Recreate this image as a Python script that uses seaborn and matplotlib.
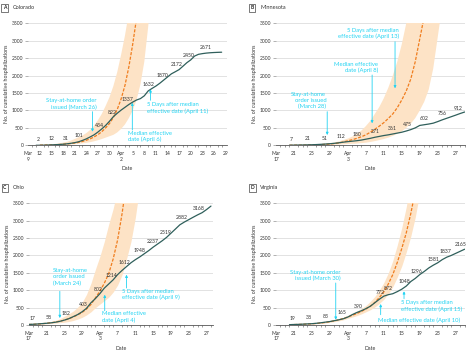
import numpy as np
import matplotlib
matplotlib.use("Agg")
import matplotlib.pyplot as plt
import seaborn as sns

# ---- Colorado (day 0 = Mar 9) ----
co_days = list(range(2, 51))
co_cum = [0, 2, 4, 7, 12, 17, 23, 31, 42, 57, 76, 101, 140, 185, 240, 300, 380, 470, 570, 690,
          822, 920, 1010, 1090, 1170, 1240, 1300, 1340, 1420, 1560, 1632, 1700, 1780, 1870, 1960,
          2050, 2110, 2172, 2270, 2370, 2450, 2560, 2610, 2630, 2645, 2655, 2662, 2667, 2671]
co_pdays = list(range(3, 33))
co_proj = [6, 8, 10, 13, 17, 22, 29, 38, 50, 65, 85, 110, 145, 185, 240, 305, 390, 500, 625, 800,
           1030, 1330, 1720, 2250, 2900, 3650, 4600, 5800, 7300, 9200]
co_lo = [0, 1, 2, 4, 6, 9, 13, 18, 25, 33, 43, 55, 70, 90, 115, 145, 180, 220, 260, 300,
         370, 470, 600, 780, 1000, 1300, 1750, 2400, 3400, 4600]
co_hi = [5, 10, 18, 28, 40, 55, 75, 100, 135, 180, 230, 280, 350, 440, 560, 720, 900, 1130, 1380, 1700,
         2100, 2600, 3150, 3800, 4600, 5500, 6600, 8000, 9500, 11000]
co_lab_days = [2.6, 5.9, 9.6, 13, 18.3, 21.6, 25.8, 31, 34.7, 38.4, 41.5, 46]
co_lab_vals = [2, 12, 31, 101, 434, 822, 1337, 1632, 1870, 2172, 2450, 2671]
co_ticklabels = ["Mar\n9", "12", "15", "18", "21", "24", "27", "30", "Apr\n2",
                 "5", "8", "11", "14", "17", "20", "23", "26", "29"]

# ---- Minnesota (day 0 = Mar 17) ----
mn_days = list(range(3, 43))
mn_cum = [3, 5, 7, 9, 12, 16, 21, 28, 36, 45, 57, 72, 90, 105, 118, 132, 150, 175, 200, 230,
          255, 280, 300, 325, 350, 375, 410, 450, 500, 570, 590, 610, 635, 680, 730, 775, 820, 865,
          912, 955]
mn_pdays = list(range(3, 38))
mn_proj = [3, 4, 5, 7, 9, 12, 16, 21, 28, 37, 50, 68, 95, 130, 160, 200, 245, 300, 375, 460,
           550, 650, 770, 900, 1080, 1300, 1560, 1900, 2400, 3050, 3700, 4500, 5400, 6500, 7800]
mn_lo = [1, 2, 2, 3, 4, 6, 8, 10, 12, 15, 19, 24, 30, 37, 44, 50, 62, 75, 95, 120,
         150, 180, 220, 270, 330, 400, 500, 620, 780, 1000, 1250, 1600, 2200, 3100, 4000]
mn_hi = [4, 6, 8, 10, 13, 18, 25, 35, 46, 60, 80, 110, 150, 195, 250, 330, 420, 550, 700, 900,
         1100, 1350, 1650, 2000, 2400, 2900, 3500, 4200, 5000, 6000, 7000, 8000, 9000, 10000, 11000]
mn_lab_days = [3.4, 7.1, 10.8, 14.5, 18, 22, 25.8, 29.2, 33.1, 37, 40.5]
mn_lab_vals = [7, 21, 51, 112, 180, 271, 361, 475, 602, 756, 912]

# ---- Ohio (day 0 = Mar 17) ----
oh_days = list(range(0, 42))
oh_cum = [17, 22, 30, 40, 50, 62, 80, 105, 140, 182, 240, 300, 380, 480, 640, 760, 900, 1060,
          1180, 1300, 1450, 1570, 1680, 1790, 1880, 1960, 2050, 2140, 2240, 2330, 2420, 2519,
          2640, 2760, 2882, 2960, 3030, 3100, 3168, 3230, 3320, 3420]
oh_pdays = list(range(0, 26))
oh_proj = [15, 20, 28, 38, 50, 65, 85, 110, 140, 180, 230, 290, 360, 460, 590, 780, 970, 1200,
           1480, 1900, 2450, 3200, 4100, 5200, 6500, 8000]
oh_lo = [10, 14, 20, 27, 35, 45, 55, 67, 80, 100, 130, 170, 220, 290, 380, 500, 600, 700,
         800, 950, 1150, 1450, 1900, 2400, 3100, 4000]
oh_hi = [20, 28, 40, 55, 75, 100, 130, 180, 250, 320, 400, 510, 650, 880, 1200, 1600, 1970, 2400,
         2900, 3350, 3900, 4600, 5400, 6300, 7300, 8500]
oh_lab_days = [0.8, 4.6, 8.5, 12.4, 15.7, 18.7, 21.6, 25, 28, 30.8, 34.4, 38.3]
oh_lab_vals = [17, 58, 182, 403, 802, 1214, 1612, 1948, 2237, 2519, 2882, 3168]

# ---- Virginia (day 0 = Mar 17) ----
va_days = list(range(3, 43))
va_cum = [10, 15, 19, 25, 32, 38, 50, 65, 83, 100, 125, 150, 180, 230, 300, 360, 410, 470, 540,
          640, 740, 830, 872, 900, 960, 1030, 1120, 1250, 1340, 1450, 1540, 1640, 1720, 1790, 1880,
          1950, 2000, 2060, 2120, 2180]
va_pdays = list(range(3, 33))
va_proj = [10, 13, 17, 22, 28, 36, 45, 58, 75, 95, 120, 150, 190, 230, 280, 330, 390, 460, 540,
           650, 790, 950, 1180, 1450, 1800, 2200, 2650, 3200, 3850, 4600]
va_lo = [8, 10, 14, 18, 23, 29, 37, 46, 60, 78, 98, 120, 150, 190, 230, 270, 320, 380, 440,
         520, 620, 740, 900, 1100, 1380, 1700, 2100, 2550, 3100, 3800]
va_hi = [12, 15, 20, 26, 33, 42, 55, 70, 90, 115, 145, 180, 225, 275, 335, 400, 475, 560, 680,
         820, 1000, 1220, 1500, 1850, 2300, 2800, 3400, 4100, 4900, 5800]
va_lab_days = [3.6, 7.3, 11.1, 14.8, 18.3, 23.3, 24.9, 28.6, 31.3, 35, 37.8, 41.2]
va_lab_vals = [19, 38, 83, 165, 390, 772, 872, 1048, 1296, 1581, 1837, 2165]

late_ticklabels = ["Mar\n17", "21", "25", "29", "Apr\n3", "7", "11", "15", "19", "23", "27"]

LINE = "#2f5f5b"
ORANGE = "#f07d1e"
BAND = "#fde3c6"
CYAN = "#22d3f2"

sns.set_style("white")
plt.rcParams["font.family"] = ["Lato", "DejaVu Sans"]

fig = plt.figure(figsize=(4.67, 3.57), dpi=100)


def draw_panel(rect, days, cum, pdays, proj, lo, hi, lab_days, lab_vals,
               ticks, ticklabels, xmax, letter, state, notes):
    ax = fig.add_axes(rect)
    ax.fill_between(pdays, lo, hi, color=BAND, lw=0, zorder=1)
    sns.lineplot(x=pdays, y=proj, ax=ax, color=ORANGE, lw=0.9,
                 linestyle=(0, (2.5, 1.2)), zorder=2)
    sns.lineplot(x=days, y=cum, ax=ax, color=LINE, lw=0.9, zorder=3)
    for d, v in zip(lab_days, lab_vals):
        y = np.interp(d, days, cum)
        ax.annotate(str(v), (d, y), xytext=(0, 2.5), textcoords="offset points",
                    ha="center", va="bottom", fontsize=3.7, color="#333333", zorder=4)
    for n in notes:
        ax.annotate("", xy=(n["x"], n["tip"]), xytext=(n["x"], n["tail"]),
                    arrowprops=dict(arrowstyle="-|>", color=CYAN, lw=0.6,
                                    mutation_scale=3.5, shrinkA=0, shrinkB=0), zorder=5)
        ax.text(n["tx"], n["ty"], n["text"], ha=n["ha"], va=n["va"],
                multialignment=n["ha"], fontsize=4.2, color=CYAN, linespacing=1.25, zorder=5)
    ax.set_xlim(0, xmax)
    ax.set_ylim(0, 3500)
    ax.set_yticks(range(0, 3501, 500))
    ax.set_xticks(ticks)
    ax.set_xticklabels(ticklabels)
    ax.set_xticks(range(0, int(xmax) + 1), minor=True)
    ax.grid(axis="y", color="#d6d6d6", lw=0.5)
    ax.set_axisbelow(True)
    for s in ["top", "right", "left"]:
        ax.spines[s].set_visible(False)
    ax.spines["bottom"].set_color("#555555")
    ax.spines["bottom"].set_linewidth(0.6)
    ax.tick_params(axis="both", labelsize=3.6, colors="#333333", pad=1.5)
    ax.tick_params(axis="x", which="major", length=2.5, width=0.5, color="#555555")
    ax.tick_params(axis="x", which="minor", length=1.5, width=0.4, color="#555555", bottom=True)
    ax.tick_params(axis="y", length=2, width=0.4, color="#777777", left=True)
    ax.set_xlabel("Date", fontsize=3.8, labelpad=3, color="#333333")
    ax.set_ylabel("No. of cumulative hospitalizations", fontsize=3.8, labelpad=2, color="#333333")
    # panel letter and state name
    bbox = ax.get_position()
    yy = bbox.y1 + 0.043
    lx = 0.01 if rect[0] < 0.3 else 0.54
    fig.text(lx, yy, letter, fontsize=3.6, fontweight="bold", ha="center", va="center",
             bbox=dict(boxstyle="square,pad=0.3", fc="white", ec="#444444", lw=0.5))
    fig.text(lx + 0.017, yy, state, fontsize=4.0, ha="left", va="center", color="#333333")
    return ax


co_notes = [
    dict(x=16.6, tail=964, tip=390, tx=17.7, ty=1020, ha="right", va="bottom",
         text="Stay-at-home order\nissued (March 26)"),
    dict(x=26.9, tail=439, tip=1222, tx=25.7, ty=420, ha="left", va="top",
         text="Median effective\ndate (April 6)"),
    dict(x=31.6, tail=1291, tip=1606, tx=30.6, ty=1230, ha="left", va="top",
         text="5 Days after median\neffective date (April 11)"),
]
mn_notes = [
    dict(x=11.4, tail=964, tip=295, tx=11.2, ty=1040, ha="right", va="bottom",
         text="Stay-at-home\norder issued\n(March 28)"),
    dict(x=21.4, tail=2017, tip=631, tx=22.7, ty=2070, ha="right", va="bottom",
         text="Median effective\ndate (April 8)"),
    dict(x=26.5, tail=2972, tip=1635, tx=27.4, ty=3040, ha="right", va="bottom",
         text="5 Days after median\neffective date (April 13)"),
]
oh_notes = [
    dict(x=7.0, tail=969, tip=201, tx=5.5, ty=1630, ha="left", va="top",
         text="Stay-at-home\norder issued\n(March 24)"),
    dict(x=17.1, tail=411, tip=872, tx=16.4, ty=400, ha="left", va="top",
         text="Median effective\ndate (April 4)"),
    dict(x=22.0, tail=1064, tip=1447, tx=21.0, ty=1040, ha="left", va="top",
         text="5 Days after median\neffective date (April 9)"),
]
va_notes = [
    dict(x=13.3, tail=1208, tip=152, tx=14.3, ty=1250, ha="right", va="bottom",
         text="Stay-at-home order\nissued (March 30)"),
    dict(x=23.3, tail=296, tip=604, tx=22.7, ty=124, ha="left", va="center",
         text="Median effective date (April 10)"),
    dict(x=28.5, tail=757, tip=970, tx=27.9, ty=705, ha="left", va="top",
         text="5 Days after median\neffective date (April 15)"),
]

late_ticks = list(range(0, 41, 4))
draw_panel([0.0606, 0.593, 0.4248, 0.3417], co_days, co_cum, co_pdays, co_proj, co_lo, co_hi,
           co_lab_days, co_lab_vals, list(range(0, 52, 3)), co_ticklabels, 51.3,
           "A", "Colorado", co_notes)
draw_panel([0.591, 0.593, 0.404, 0.3417], mn_days, mn_cum, mn_pdays, mn_proj, mn_lo, mn_hi,
           mn_lab_days, mn_lab_vals, late_ticks, late_ticklabels, 42.0,
           "B", "Minnesota", mn_notes)
draw_panel([0.0615, 0.0896, 0.395, 0.3409], oh_days, oh_cum, oh_pdays, oh_proj, oh_lo, oh_hi,
           oh_lab_days, oh_lab_vals, late_ticks, late_ticklabels, 41.5,
           "C", "Ohio", oh_notes)
draw_panel([0.591, 0.0896, 0.404, 0.3409], va_days, va_cum, va_pdays, va_proj, va_lo, va_hi,
           va_lab_days, va_lab_vals, late_ticks, late_ticklabels, 42.0,
           "D", "Virginia", va_notes)

fig.savefig("out.png", dpi=100)
